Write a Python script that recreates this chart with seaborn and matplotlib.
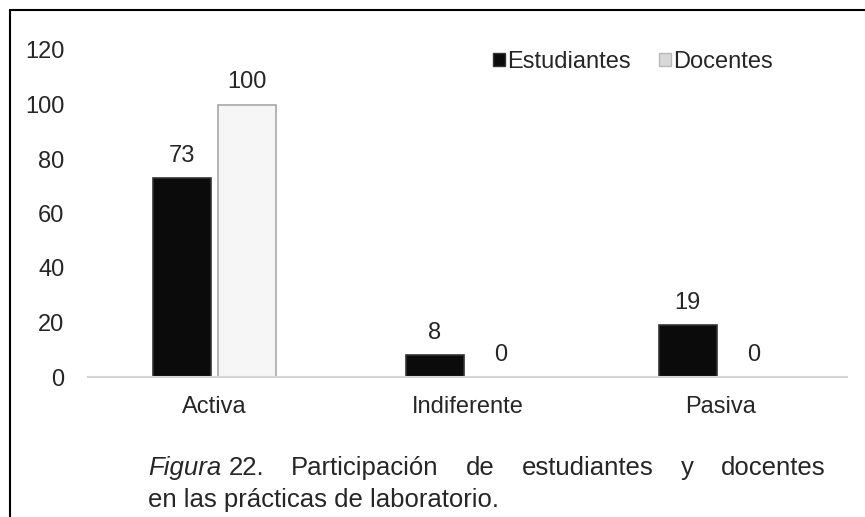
import pandas as pd
import matplotlib.pyplot as plt
import seaborn as sns
from matplotlib import font_manager
from matplotlib.lines import Line2D

# data
categorias = ["Activa", "Indiferente", "Pasiva"]
estudiantes = [73, 8, 19]
docentes = [100, 0, 0]
series = ["Estudiantes", "Docentes"]

df = pd.DataFrame({
    "Categoria": categorias * 2,
    "Grupo": [series[0]] * 3 + [series[1]] * 3,
    "Valor": estudiantes + docentes,
})

sns.set_style("white")
plt.rcParams["font.family"] = ["Liberation Sans", "DejaVu Sans"]

nombres = {f.name for f in font_manager.fontManager.ttflist}
narrow = "Liberation Sans Narrow" if "Liberation Sans Narrow" in nombres else "Liberation Sans"

W, H = 865, 517
fs = 17
fig = plt.figure(figsize=(W / 100, H / 100), dpi=100)
ax = fig.add_axes([88 / W, 1 - 377 / H, (847 - 88) / W, (377 - 50) / H])

colores = {"Estudiantes": "#0b0b0b", "Docentes": "#f6f6f6"}
sns.barplot(data=df, x="Categoria", y="Valor", hue="Grupo", order=categorias,
            hue_order=series, palette=colores, width=0.52, gap=0.12,
            ax=ax, legend=False)

bordes = {"Estudiantes": "#333333", "Docentes": "#a8a8a8"}
for cont, nombre in zip(ax.containers, series):
    for b in cont:
        b.set_edgecolor(bordes[nombre])
        b.set_linewidth(1.2)
    ax.bar_label(cont, labels=[f"{v:g}" for v in cont.datavalues],
                 padding=8, fontsize=fs)

ax.set_ylim(0, 120)
ax.set_yticks(range(0, 121, 20))
ax.set_xlabel("")
ax.set_ylabel("")
for s in ["top", "right", "left"]:
    ax.spines[s].set_visible(False)
ax.spines["bottom"].set_color("#d4d4d4")
ax.spines["bottom"].set_linewidth(1.5)
ax.tick_params(axis="y", length=0, pad=17, labelsize=fs)
ax.tick_params(axis="x", length=0, pad=14, labelsize=fs)

handles = [plt.Rectangle((0, 0), 1, 1, fc="#0b0b0b", ec="#333333"),
           plt.Rectangle((0, 0), 1, 1, fc="#d8d8d8", ec="#b8b8b8")]
fig.legend(handles, series, loc="upper left", bbox_to_anchor=(493 / W, 1 - 51 / H),
           ncol=2, frameon=False, fontsize=fs, handlelength=0.5, handleheight=0.5,
           handletextpad=0.1, columnspacing=1.2, borderaxespad=0, borderpad=0)

# marco de la figura (solo izquierda y arriba)
fig.add_artist(Line2D([9.5 / W, 9.5 / W], [0, 1 - 9.5 / H], color="black", lw=1.5))
fig.add_artist(Line2D([9.5 / W, 1], [1 - 9.5 / H, 1 - 9.5 / H], color="black", lw=1.5))

# pie de figura, primera línea justificada
fig.canvas.draw()
rend = fig.canvas.get_renderer()
left, right = 148, 826
y1 = 1 - 475 / H
y2 = 1 - 507 / H
cap_fs = 18.5
palabras = [("Figura", "italic"), ("22.", "normal"), ("Participación", "normal"),
            ("de", "normal"), ("estudiantes", "normal"), ("y", "normal"),
            ("docentes", "normal")]
textos = []
for p, st in palabras:
    t = fig.text(0, y1, p, fontsize=cap_fs, family=narrow, style=st, va="baseline")
    textos.append(t)
anchos = [t.get_window_extent(rend).width for t in textos]
espacio = fig.text(0, 0, "a a", fontsize=cap_fs, family=narrow).get_window_extent(rend).width \
    - fig.text(0, 0, "aa", fontsize=cap_fs, family=narrow).get_window_extent(rend).width
for t in fig.texts[-2:]:
    t.remove()
resto = right - left - anchos[0] - espacio - anchos[1] - sum(anchos[2:])
hueco = resto / (len(anchos) - 2)
x = left
textos[0].set_x(x / W)
x += anchos[0] + espacio
textos[1].set_x(x / W)
x += anchos[1]
for t, a in zip(textos[2:], anchos[2:]):
    x += hueco
    t.set_x(x / W)
    x += a
fig.text(left / W, y2, "en las prácticas de laboratorio.", fontsize=cap_fs,
         family=narrow, va="baseline")

fig.savefig("out.png", dpi=100)
